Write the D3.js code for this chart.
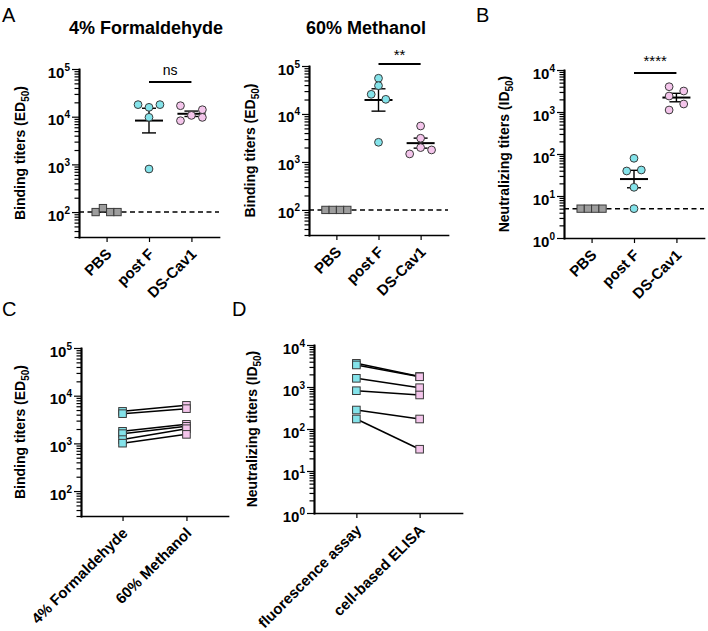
<!DOCTYPE html>
<html><head><meta charset="utf-8">
<script src="https://cdn.jsdelivr.net/npm/d3@7"></script>
<style>
body{margin:0;background:#fff;}
svg{font-family:"Liberation Sans",Arial,Helvetica,sans-serif;}
</style></head><body>
<svg id="chart" width="708" height="631"></svg>
<script>
// ---------------- DATA ----------------
const groupCategories = ["PBS", "post F", "DS-Cav1"];
// Panel A – 4% Formaldehyde, binding titers (ED50)
const formPBS    = [100, 121, 100, 100];
const formPostF  = [17900, 15700, 17900, 9700, 800];
const formDSCav1 = [17000, 14000, 10650, 8240, 9670];
// Panel A – 60% Methanol, binding titers (ED50)
const methPBS    = [100, 100, 100, 100];
const methPostF  = [55500, 38900, 25700, 20200, 2570];
const methDSCav1 = [5620, 3120, 1470, 1990, 1780];
// Panel B – neutralizing titers (ID50)
const neutPBS    = [5, 5, 5, 5];
const neutPostF  = [79, 39.4, 41.6, 16.1, 5];
const neutDSCav1 = [4000, 3160, 2400, 1550, 1115];
// Panel C – binding titers by fixation
const fixCategories = ["4% Formaldehyde", "60% Methanol"];
const pairForm = [4690, 4200, 1790, 1600, 1200, 1010];
const pairMeth = [6270, 5350, 2510, 2280, 2030, 1545];
// Panel D – neutralizing titers by assay
const assayCategories = ["fluorescence assay", "cell-based ELISA"];
const pairFluor = [3660, 3350, 1610, 816, 283, 173];
const pairElisa = [1780, 1750, 962, 646, 173, 33];
// significance labels
const sigLabels = ["ns", "**", "****"];
// tick values
const bindTicks = [1e2, 1e3, 1e4, 1e5];
const neutTicks = [1, 10, 100, 1e3, 1e4];

// ---------------- LAYOUT (point dodge slots, not data) ----------------
const dodgeA1 = [[-1.5,-0.5,0.5,1.5],[-1.5,0,1.5,0,0],[-1.5,1.5,0,-1.5,1.5]];
const dodgeA2 = [[-1.5,-0.5,0.5,1.5],[0,0,-1,1,0],[0,0,-1.5,0,1.5]];
const dodgeB  = [[-1.5,-0.5,0.5,1.5],[0,-1,1,0,0],[-1,1,-1,1,-1]];
const SLOT = 7.3;

const COL = {pbs:"#9d9d9d", cyan:"#84e3ea", pink:"#f4c5eb", stroke:"#3a3a3a"};
const svg = d3.select("#chart");

function minorTicks(domain){
  const out=[];
  const lo=Math.floor(Math.log10(domain[0])), hi=Math.ceil(Math.log10(domain[1]));
  for(let d=lo; d<hi; d++) for(let k=2;k<=9;k++){
    const v=k*Math.pow(10,d);
    if(v>=domain[0]*0.999 && v<=domain[1]*1.001) out.push(v);
  }
  return out;
}

function frame(cfg, cats){
  const g = svg.append("g").attr("transform",`translate(${cfg.x0},0)`);
  const width = cfg.xEnd - cfg.x0;
  const x = d3.scalePoint().domain(cats).range([0,width]).padding(cfg.pad);
  const y = d3.scaleLog().domain(cfg.domain).range(cfg.range);
  const yB = cfg.range[0];
  const style = sel => {
    sel.selectAll("path").attr("stroke","#000").attr("stroke-width",1.7).attr("stroke-linecap","square");
    sel.selectAll("line").attr("stroke","#000").attr("stroke-width",1.2);
  };
  g.append("g").call(d3.axisLeft(y).tickValues(minorTicks(cfg.domain)).tickSize(4.5).tickSizeOuter(0).tickFormat("")).call(style);
  g.append("g").call(d3.axisLeft(y).tickValues(cfg.majors).tickSize(7).tickSizeOuter(0).tickFormat("")).call(style);
  g.append("g").attr("transform",`translate(0,${yB})`)
    .call(d3.axisBottom(x).tickSize(5).tickSizeOuter(0).tickFormat("")).call(style);
  // y tick labels 10^n
  const lab = g.append("g").selectAll("text").data(cfg.majors).join("text")
    .attr("x",-9).attr("y",d=>y(d)+8.5).attr("text-anchor","end")
    .attr("font-size",15).attr("font-weight","bold").attr("fill","#000");
  lab.append("tspan").text("10");
  lab.append("tspan").attr("font-size",10).attr("dy",-7).text(d=>Math.round(Math.log10(d)));
  // category labels
  g.append("g").selectAll("text").data(cats).join("text")
    .attr("transform",d=>`translate(${x(d)+6},${yB+18}) rotate(-45)`)
    .attr("text-anchor","end").attr("font-size",15).attr("font-weight","bold").text(d=>d);
  // y label
  const yl = g.append("text")
    .attr("transform",`translate(${cfg.ylabX-cfg.x0},${(cfg.range[0]+cfg.range[1])/2}) rotate(-90)`)
    .attr("text-anchor","middle").attr("font-size",14).attr("font-weight","bold");
  yl.append("tspan").text(cfg.ylab);
  yl.append("tspan").attr("font-size",10).attr("dy",4).text("50");
  yl.append("tspan").attr("dy",-4).text(")");
  return {g,x,y,width,yB};
}

function dotPanel(cfg){
  const {g,x,y,width} = frame(cfg, groupCategories);
  // dashed LOD line
  g.append("line").attr("x1",0).attr("x2",width).attr("y1",y(cfg.lod)).attr("y2",y(cfg.lod))
    .attr("stroke","#000").attr("stroke-width",1.5).attr("stroke-dasharray","5,3.5");
  // mean + SEM (geometric)
  cfg.groups.forEach((vals,gi)=>{
    const cx = x(groupCategories[gi]);
    const logs = vals.map(Math.log10);
    const m = d3.mean(logs), sem = d3.deviation(logs)/Math.sqrt(logs.length);
    const hi = y(Math.pow(10,m+sem)), lo = y(Math.pow(10,m-sem)), ym = y(Math.pow(10,m));
    const eg = g.append("g").attr("stroke","#000");
    eg.append("line").attr("x1",cx).attr("x2",cx).attr("y1",hi).attr("y2",lo).attr("stroke-width",1.4);
    eg.append("line").attr("x1",cx-7).attr("x2",cx+7).attr("y1",hi).attr("y2",hi).attr("stroke-width",1.4);
    eg.append("line").attr("x1",cx-7).attr("x2",cx+7).attr("y1",lo).attr("y2",lo).attr("stroke-width",1.4);
    eg.append("line").attr("x1",cx-14).attr("x2",cx+14).attr("y1",ym).attr("y2",ym).attr("stroke-width",2);
  });
  // points
  cfg.groups.forEach((vals,gi)=>{
    const cx = x(groupCategories[gi]);
    const pts = vals.map((v,i)=>({v, dx:cfg.dodge[gi][i]*SLOT}));
    if(gi===0){
      g.append("g").selectAll("rect").data(pts).join("rect")
        .attr("x",d=>cx+d.dx-3.65).attr("y",d=>y(d.v)-3.65).attr("width",7.3).attr("height",7.3)
        .attr("fill",COL.pbs).attr("stroke",COL.stroke).attr("stroke-width",1);
    } else {
      g.append("g").selectAll("circle").data(pts).join("circle")
        .attr("cx",d=>cx+d.dx).attr("cy",d=>y(d.v)).attr("r",3.9)
        .attr("fill",gi===1?COL.cyan:COL.pink).attr("stroke",COL.stroke).attr("stroke-width",1);
    }
  });
  // significance
  const x1 = x(groupCategories[1]), x2 = x(groupCategories[2]);
  g.append("line").attr("x1",x1).attr("x2",x2).attr("y1",cfg.sigY).attr("y2",cfg.sigY)
    .attr("stroke","#000").attr("stroke-width",2);
  g.append("text").attr("x",(x1+x2)/2).attr("y",cfg.sigTextY).attr("text-anchor","middle")
    .attr("font-size",cfg.sigSize).text(cfg.sig);
  if(cfg.title) svg.append("text").attr("x",cfg.titleX).attr("y",34).attr("text-anchor","middle")
    .attr("font-size",18).attr("font-weight","bold").text(cfg.title);
}

function pairPanel(cfg){
  const {g,x,y} = frame(cfg, cfg.cats);
  const a = cfg.cats[0], b = cfg.cats[1];
  const pairs = cfg.left.map((v,i)=>({l:v, r:cfg.right[i]}));
  g.append("g").selectAll("line").data(pairs).join("line")
    .attr("x1",x(a)).attr("x2",x(b)).attr("y1",d=>y(d.l)).attr("y2",d=>y(d.r))
    .attr("stroke","#000").attr("stroke-width",1.5);
  [[cfg.left,a,COL.cyan],[cfg.right,b,COL.pink]].forEach(([vals,c,col])=>{
    g.append("g").selectAll("rect").data(vals).join("rect")
      .attr("x",x(c)-3.8).attr("y",d=>y(d)-3.8).attr("width",7.6).attr("height",7.6)
      .attr("fill",col).attr("stroke",COL.stroke).attr("stroke-width",1);
  });
}

dotPanel({x0:79, xEnd:219, pad:0.65, domain:[30,1e5], range:[237,69], majors:bindTicks,
  ylab:"Binding titers (ED", ylabX:25, lod:100, groups:[formPBS,formPostF,formDSCav1], dodge:dodgeA1,
  sig:sigLabels[0], sigY:82, sigTextY:75, sigSize:14, title:"4% Formaldehyde", titleX:146});
dotPanel({x0:309, xEnd:448, pad:0.65, domain:[30,1e5], range:[235,66], majors:bindTicks,
  ylab:"Binding titers (ED", ylabX:255, lod:100, groups:[methPBS,methPostF,methDSCav1], dodge:dodgeA2,
  sig:sigLabels[1], sigY:64, sigTextY:60, sigSize:15, title:"60% Methanol", titleX:366});
dotPanel({x0:564, xEnd:704, pad:0.65, domain:[1,1e4], range:[238,70], majors:neutTicks,
  ylab:"Neutralizing titers (ID", ylabX:509, lod:5, groups:[neutPBS,neutPostF,neutDSCav1], dodge:dodgeB,
  sig:sigLabels[2], sigY:73, sigTextY:66, sigSize:15});
pairPanel({x0:81, xEnd:228, pad:0.65, domain:[30,1e5], range:[516,348], majors:bindTicks,
  ylab:"Binding titers (ED", ylabX:25, cats:fixCategories, left:pairForm, right:pairMeth});
pairPanel({x0:314, xEnd:462, pad:0.67, domain:[1,1e4], range:[513,345], majors:neutTicks,
  ylab:"Neutralizing titers (ID", ylabX:257, cats:assayCategories, left:pairFluor, right:pairElisa});

// panel letters
[["A",2,22],["B",476,22],["C",2,316],["D",232,316]].forEach(([t,px,py])=>{
  svg.append("text").attr("x",px).attr("y",py).attr("font-size",20).text(t);
});
</script>
</body></html>
